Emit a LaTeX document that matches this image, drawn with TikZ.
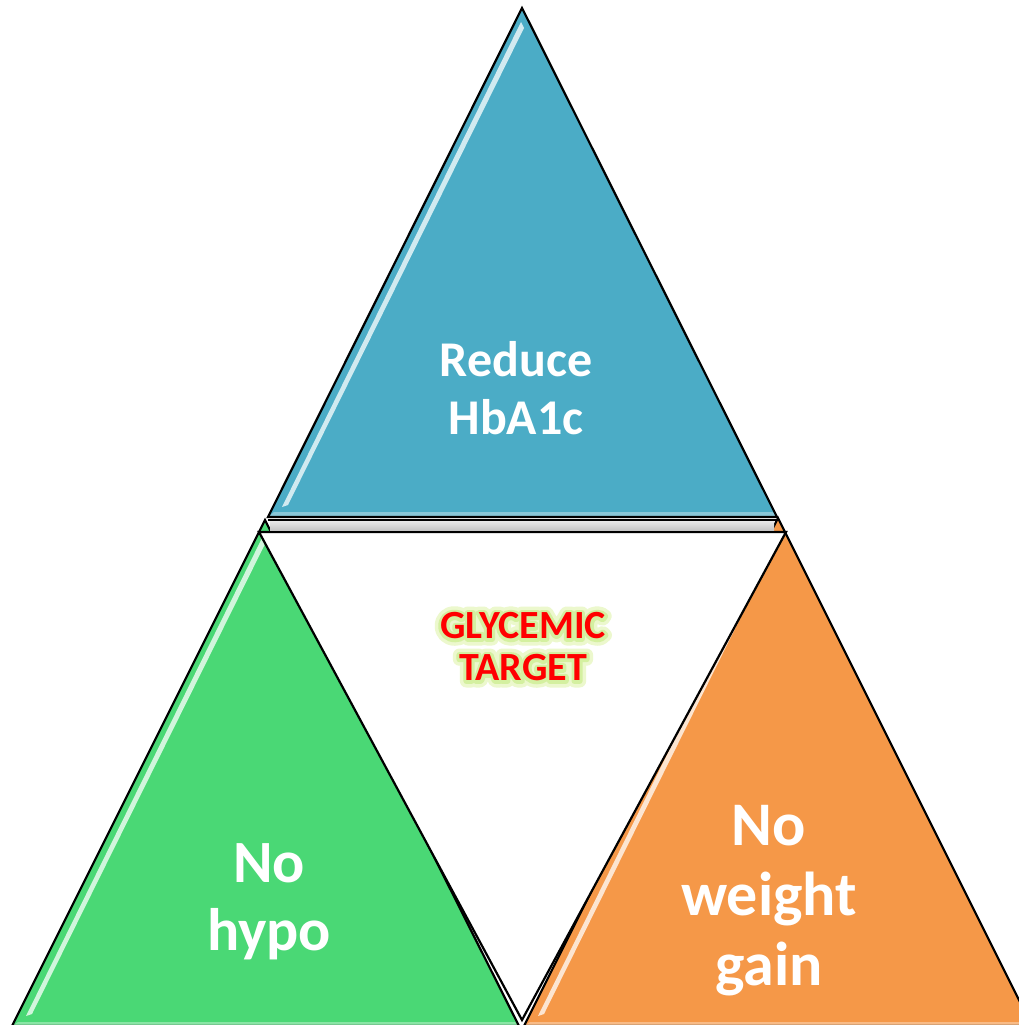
\documentclass[tikz,border=0pt]{standalone}
\usepackage{fontspec}
\setmainfont{Carlito}
\usetikzlibrary{calc}
\definecolor{cblue}{RGB}{75,172,198}
\definecolor{cgreen}{RGB}{74,216,117}
\definecolor{corange}{RGB}{245,152,72}
\definecolor{glowA}{RGB}{236,248,205}
\definecolor{glowB}{RGB}{212,240,160}
\definecolor{tred}{RGB}{255,0,0}
\tikzset{
  tri/.style={draw=black, line width=2.2pt, line join=miter},
  shine/.style={fill=white, draw=none, opacity=0.75},
  label/.style={text=white, align=center, inner sep=0pt},
  gtxt/.style={font=\bfseries\fontsize{40}{42}\selectfont, align=center, inner sep=0pt},
}
\newcommand{\strk}[3]{{\color{#1}\special{pdf:literal direct 1 Tr #2 w 1 j 1 J}#3\special{pdf:literal direct 0 Tr}}}
\newcommand{\glowline}[1]{%
  \makebox[0pt]{\strk{glowA}{13}{#1}}%
  \makebox[0pt]{\strk{glowB}{6}{#1}}%
  \makebox[0pt]{\color{tred}#1}}
\begin{document}
\begin{tikzpicture}[x=1pt,y=-1pt]
\path[use as bounding box, fill=white] (0,0) rectangle (1018,1025);
% coordinates
\coordinate (gA) at (265,520); \coordinate (gL) at (12,1026); \coordinate (gR) at (519,1026);
\coordinate (oA) at (778,518); \coordinate (oL) at (524,1026); \coordinate (oR) at (1032,1026);
\coordinate (bA) at (522,8); \coordinate (bL) at (268,517); \coordinate (bR) at (777,517);
\coordinate (wL) at (259,532); \coordinate (wR) at (786,532); \coordinate (wB) at (522,1020);
% green
\fill[cgreen] (gA) -- (gL) -- (gR) -- cycle;
\fill[shine] ($(gA)+(-1,14)$) -- ($(gL)+(14,-10)$) -- ($(gL)+(20,-12)$) -- ($(gA)+(2,20)$) -- cycle;
\fill[white,opacity=0.35] ($(gL)+(6,-4)$) -- ($(gR)+(-4,-4)$) -- (gR) -- (gL) -- cycle;
\draw[tri] (gA) -- (gL) -- (gR) -- cycle;
% orange
\fill[corange] (oA) -- (oL) -- (oR) -- cycle;
\fill[shine] ($(oA)+(-1,14)$) -- ($(oL)+(14,-10)$) -- ($(oL)+(20,-12)$) -- ($(oA)+(2,20)$) -- cycle;
\fill[white,opacity=0.35] ($(oL)+(6,-4)$) -- ($(oR)+(-4,-4)$) -- (oR) -- (oL) -- cycle;
\draw[tri] (oA) -- (oL) -- (oR) -- cycle;
% white centre triangle
\fill[white] (wL) -- (wR) -- (wB) -- cycle;
\draw[tri] (wL) -- (wR) -- (wB) -- cycle;
% gray strip
\shade[top color=gray!15, bottom color=gray!45] (270,520) rectangle (774,530);
\draw[black, line width=1.6pt] (268,520) -- (776,520);
% blue top
\fill[cblue] (bA) -- (bL) -- (bR) -- cycle;
\fill[shine] ($(bA)+(-1,14)$) -- ($(bL)+(14,-10)$) -- ($(bL)+(20,-12)$) -- ($(bA)+(2,20)$) -- cycle;
\fill[white,opacity=0.35] ($(bL)+(6,-5)$) -- ($(bR)+(-4,-5)$) -- (bR) -- (bL) -- cycle;
\draw[tri] (bA) -- (bL) -- (bR) -- cycle;
% labels
\node[label, font=\bfseries\fontsize{50}{58}\selectfont] (reduce) at (516,388) {Reduce\\HbA1c};
\node[label, font=\bfseries\fontsize{60}{68}\selectfont] (hypo) at (269,902) {No\\hypo};
\node[label, font=\bfseries\fontsize{62}{70}\selectfont] (weight) at (769,901) {No\\weight\\gain};
\node[gtxt] (target) at (523,647) {\glowline{GLYCEMIC}\\\glowline{TARGET}};
\end{tikzpicture}
\end{document}
